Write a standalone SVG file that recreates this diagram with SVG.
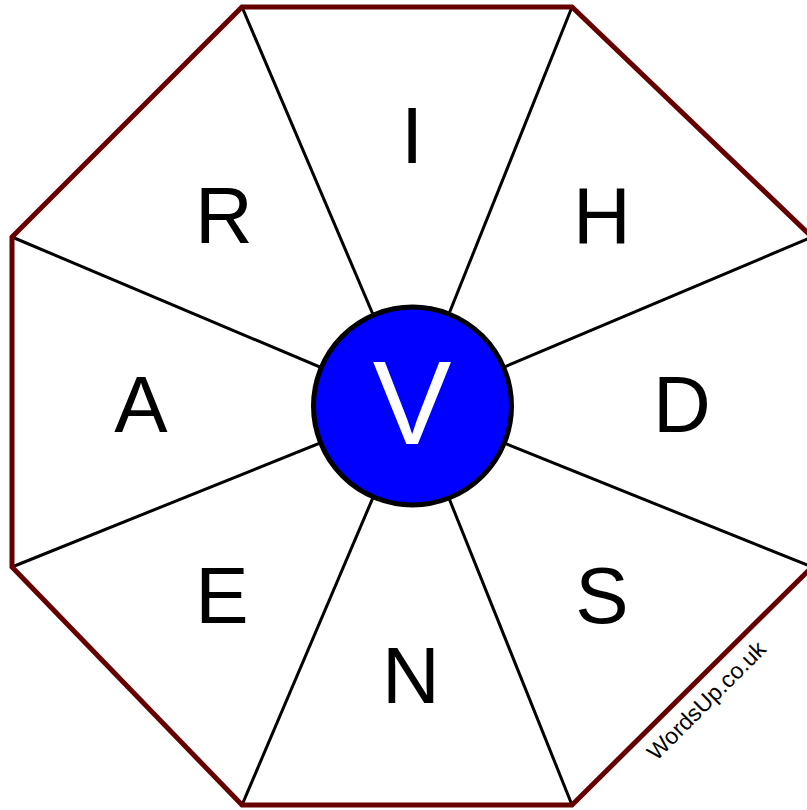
<svg xmlns="http://www.w3.org/2000/svg" width="807" height="810" viewBox="0 0 807 810">
<style>
.spoke{stroke:#000;stroke-width:3;fill:none}
.oct{stroke:#660000;stroke-width:5;fill:none;stroke-linejoin:miter}
.let{font-family:"Liberation Sans",Arial,sans-serif;font-size:80px;fill:#000;text-anchor:middle}
.hub{font-family:"Liberation Sans",Arial,sans-serif;font-size:118px;fill:#fff;text-anchor:middle}
.wm{font-family:"Liberation Sans",Arial,sans-serif;font-size:23px;fill:#000;text-anchor:middle}
</style>
<rect width="807" height="810" fill="#fff"/>
<g id="connectors">
<line class="spoke" x1="412" y1="406" x2="242" y2="7"/>
<line class="spoke" x1="412" y1="406" x2="572" y2="7"/>
<line class="spoke" x1="412" y1="406" x2="812" y2="237"/>
<line class="spoke" x1="412" y1="406" x2="812" y2="567"/>
<line class="spoke" x1="412" y1="406" x2="572" y2="805"/>
<line class="spoke" x1="412" y1="406" x2="242" y2="805"/>
<line class="spoke" x1="412" y1="406" x2="12" y2="567"/>
<line class="spoke" x1="412" y1="406" x2="12" y2="237"/>
</g>
<g id="octagon">
<polygon class="oct" points="242,7 572,7 812,237 812,567 572,805 242,805 12,567 12,237"/>
</g>
<g id="seg-I"><text class="let" x="412" y="163">I</text></g>
<g id="seg-H"><text class="let" x="602" y="243">H</text></g>
<g id="seg-D"><text class="let" x="682" y="432">D</text></g>
<g id="seg-S"><text class="let" x="602" y="623">S</text></g>
<g id="seg-N"><text class="let" x="411" y="703">N</text></g>
<g id="seg-E"><text class="let" x="222" y="623">E</text></g>
<g id="seg-A"><text class="let" x="141" y="432">A</text></g>
<g id="seg-R"><text class="let" x="224" y="243">R</text></g>
<g id="hub">
<circle cx="412.5" cy="406" r="99" fill="#0000ff" stroke="#000" stroke-width="5"/>
<text class="hub" x="412" y="444">V</text>
</g>
<g id="watermark">
<text class="wm" transform="translate(712,706) rotate(-45)">WordsUp.co.uk</text>
</g>
</svg>
